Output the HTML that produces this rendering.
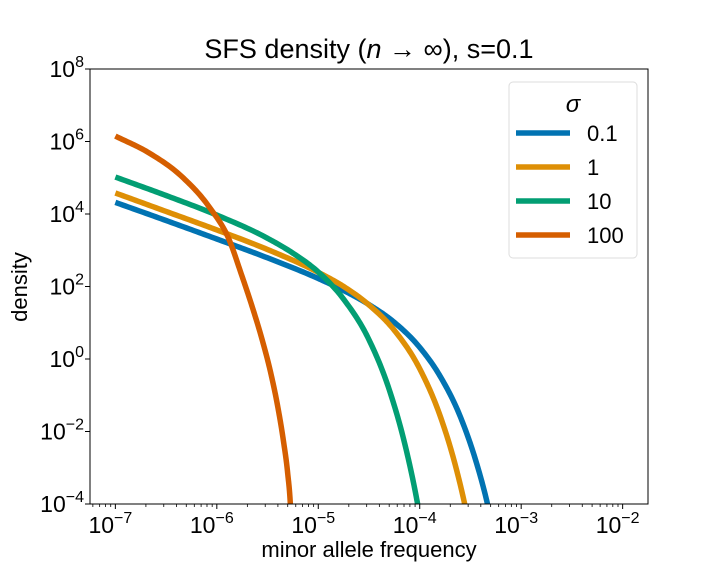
<!DOCTYPE html>
<html><head><meta charset="utf-8"><style>
body{margin:0;background:#fff;}
svg text{font-family:"Liberation Sans",sans-serif;fill:#000;}
</style></head><body>
<svg id="chart" width="720" height="576" xmlns="http://www.w3.org/2000/svg">
<defs><clipPath id="clip"><rect x="90" y="69" width="558" height="435"/></clipPath></defs>
<text x="369" y="58" font-size="27" text-anchor="middle">SFS density (<tspan font-style="italic">n</tspan> → ∞), s=0.1</text>
<g id="series" clip-path="url(#clip)"></g>
<rect x="90" y="69" width="558" height="435" fill="none" stroke="#000" stroke-width="1"/>
<g id="axes"></g>
<text x="369" y="557" font-size="22" text-anchor="middle">minor allele frequency</text>
<text transform="translate(27,287) rotate(-90)" font-size="22" text-anchor="middle">density</text>
<g>
<rect x="509" y="82" width="128" height="176" rx="4" fill="#fff" stroke="#ddd"/>
<text x="573" y="112" font-size="24" font-style="italic" text-anchor="middle">σ</text>
<g id="legend-entries"></g>
</g>
</svg>
<script>
const seriesNames = ["0.1","1","10","100"];
const colors = ["#0173b2","#de8f05","#029e73","#d55e00"];
const xs01 = [-7,-6.5,-6,-5.5,-5,-4.75,-4.5,-4.25,-4,-3.8,-3.6,-3.45,-3.35,-3.3];
const ys01 = [4.32,3.82,3.31,2.79,2.22,1.89,1.50,1.01,0.32,-0.47,-1.59,-2.78,-3.79,-4.39];
const xs1 = [-7,-6.5,-6,-5.5,-5,-4.75,-4.5,-4.25,-4,-3.8,-3.65,-3.56,-3.52];
const ys1 = [4.58,4.07,3.56,3.02,2.39,2.00,1.49,0.79,-0.27,-1.56,-2.92,-3.96,-4.5];
const xs10 = [-7,-6.5,-6,-5.5,-5.25,-5,-4.75,-4.5,-4.3,-4.15,-4.05,-4.0];
const ys10 = [5.02,4.51,3.97,3.33,2.92,2.40,1.65,0.53,-0.85,-2.31,-3.57,-4.31];
const xs100 = [-7,-6.665,-6.34,-6.074,-5.877,-5.762,-5.650,-5.552,-5.468,-5.399,-5.345,-5.302,-5.276,-5.27];
const ys100 = [6.15,5.68,5.02,4.19,3.28,2.37,1.43,0.52,-0.39,-1.32,-2.23,-3.14,-3.97,-4.3];
const xTicks = [-7,-6,-5,-4,-3,-2];
const yTicks = [8,6,4,2,0,-2,-4];
const X0=90,X1=648,Y0=69,Y1=504,XMIN=-7.25,XMAX=-1.75,YMIN=-4,YMAX=8;
const sx=v=>X0+(v-XMIN)/(XMAX-XMIN)*(X1-X0);
const sy=v=>Y1-(v-YMIN)/(YMAX-YMIN)*(Y1-Y0);
const NS="http://www.w3.org/2000/svg";
function mk(t,a,p){const e=document.createElementNS(NS,t);for(const k in a)e.setAttribute(k,a[k]);p.appendChild(e);return e;}
function smooth(xs,ys){
  const n=xs.length,d=[],h=[],m=[];
  for(let i=0;i<n-1;i++){h.push(xs[i+1]-xs[i]);d.push((ys[i+1]-ys[i])/h[i]);}
  m[0]=d[0];m[n-1]=d[n-2];
  for(let i=1;i<n-1;i++)m[i]=(d[i-1]*h[i]+d[i]*h[i-1])/(h[i-1]+h[i]);
  const pts=[];
  for(let i=0;i<n-1;i++){const hh=h[i];
    for(let k=0;k<20;k++){const t=k/20,t2=t*t,t3=t2*t;
      const y=(2*t3-3*t2+1)*ys[i]+(t3-2*t2+t)*hh*m[i]+(-2*t3+3*t2)*ys[i+1]+(t3-t2)*hh*m[i+1];
      pts.push([xs[i]+t*hh,y]);}}
  pts.push([xs[n-1],ys[n-1]]);return pts;
}
const data=[[xs01,ys01],[xs1,ys1],[xs10,ys10],[xs100,ys100]];
const sg=document.getElementById('series');
data.forEach((d,i)=>{
  const P=smooth(d[0],d[1]);
  const s='M'+P.map(p=>sx(p[0]).toFixed(2)+','+sy(p[1]).toFixed(2)).join(' L');
  const e=mk('path',{d:s,fill:'none',stroke:colors[i],'stroke-width':5.5,'stroke-linejoin':'round'},sg);
  
  
  const lg=document.getElementById('legend-entries');
  const y=133+i*34;
  const l=mk('line',{x1:516,x2:570,y1:y,y2:y,stroke:colors[i],'stroke-width':5.5},lg);
  
  
  const t=mk('text',{x:587,y:y+8,'font-size':22},lg);
  t.textContent=seriesNames[i];
  
  
});
const ax=document.getElementById('axes');
xTicks.forEach(v=>{
  const x=sx(v);
  const tk=mk('line',{x1:x,x2:x,y1:Y1,y2:Y1+5,stroke:'#000'},ax);
  
  
  const t=mk('text',{x:x-5,y:Y1+29,'font-size':23,'text-anchor':'middle'},ax);
  t.innerHTML=`10<tspan dy="-10" font-size="16">${v<0?'−'+(-v):v}</tspan>`;
  
  
});
for(let d=-8;d<=-2;d++)for(let m=2;m<10;m++){
  const v=d+Math.log10(m);if(v<XMIN||v>XMAX)continue;
  const x=sx(v);
  const mt=mk('line',{x1:x,x2:x,y1:Y1,y2:Y1+3,stroke:'#000','stroke-width':0.8},ax);
  
  
}
yTicks.forEach(v=>{
  const y=sy(v);
  const tk=mk('line',{x1:X0-5,x2:X0,y1:y,y2:y,stroke:'#000'},ax);
  
  
  const t=mk('text',{x:84,y:y+8,'font-size':23,'text-anchor':'end'},ax);
  t.innerHTML=`10<tspan dy="-10" font-size="16">${v<0?'−'+(-v):v}</tspan>`;
  
  
});
</script>
</body></html>
